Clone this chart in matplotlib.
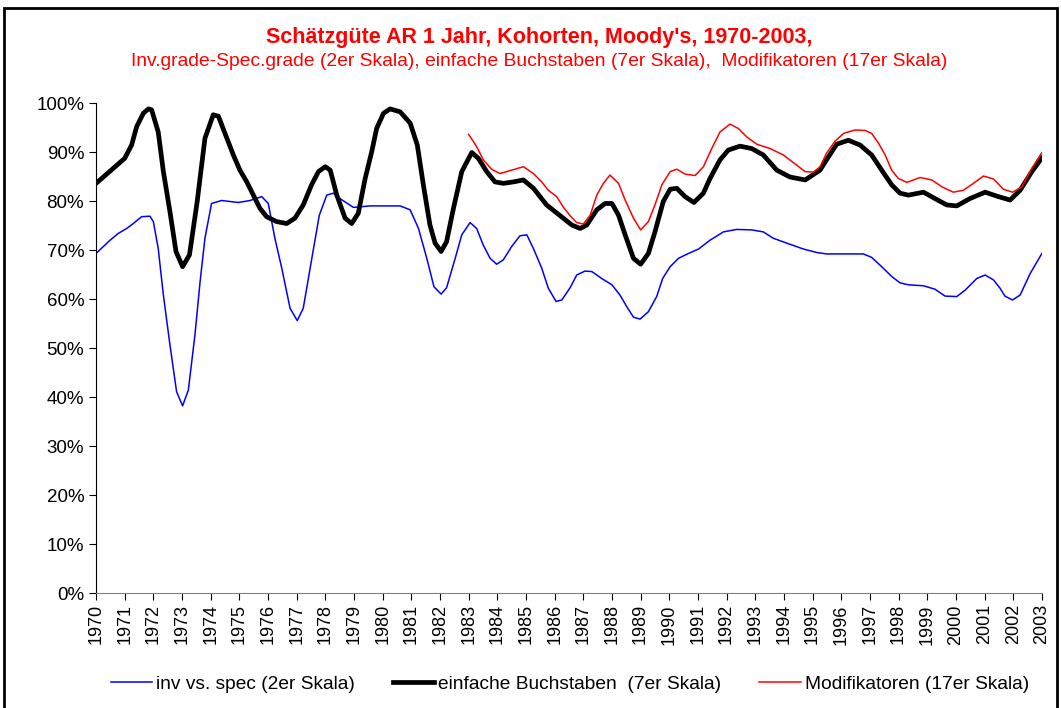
import matplotlib.pyplot as plt
from matplotlib.patches import Rectangle
from matplotlib.ticker import FuncFormatter

plt.rcParams["font.family"] = ["Liberation Sans", "DejaVu Sans"]

# inv vs. spec (2er Skala)
blue_x = [1970.0, 1970.49, 1970.78, 1971.07, 1971.3, 1971.59, 1971.88, 1972.0, 1972.17, 1972.35,
          1972.58, 1972.81, 1973.02, 1973.22, 1973.45, 1973.63, 1973.8, 1974.03, 1974.38, 1974.97,
          1975.37, 1975.78, 1976.01, 1976.24, 1976.48, 1976.77, 1977.02, 1977.23, 1977.47, 1977.79,
          1978.05, 1978.28, 1978.51, 1978.98, 1979.56, 1980.61, 1980.96, 1981.25, 1981.54, 1981.79,
          1982.04, 1982.23, 1982.53, 1982.76, 1983.05, 1983.28, 1983.51, 1983.75, 1983.98, 1984.21,
          1984.5, 1984.79, 1985.03, 1985.26, 1985.55, 1985.78, 1986.05, 1986.25, 1986.54, 1986.77,
          1987.06, 1987.3, 1987.64, 1988.0, 1988.28, 1988.52, 1988.75, 1988.98, 1989.27, 1989.56,
          1989.77, 1990.03, 1990.32, 1990.67, 1991.02, 1991.42, 1991.89, 1992.35, 1992.88, 1993.28,
          1993.63, 1994.1, 1994.68, 1995.14, 1995.49, 1996.77, 1997.06, 1997.41, 1997.76, 1998.05,
          1998.34, 1998.87, 1999.27, 1999.62, 2000.03, 2000.32, 2000.73, 2001.02, 2001.31, 2001.54,
          2001.71, 2001.97, 2002.24, 2002.59, 2003.0]
blue_y = [69.3, 72.0, 73.4, 74.4, 75.4, 76.8, 76.9, 75.8, 70.3, 60.8,
          50.6, 41.1, 38.2, 41.4, 52.6, 63.5, 72.4, 79.5, 80.1, 79.7,
          80.1, 80.9, 79.5, 72.4, 66.3, 58.1, 55.6, 58.1, 66.3, 77.1,
          81.2, 81.6, 80.5, 78.7, 79.0, 79.0, 78.2, 74.4, 68.3, 62.5,
          61.0, 62.3, 68.3, 73.1, 75.6, 74.4, 71.0, 68.3, 67.1, 68.0,
          70.7, 72.9, 73.1, 70.3, 66.3, 62.2, 59.5, 59.8, 62.3, 64.9,
          65.7, 65.6, 64.2, 62.9, 60.8, 58.4, 56.3, 55.9, 57.4, 60.5,
          64.2, 66.6, 68.3, 69.3, 70.2, 72.0, 73.7, 74.2, 74.1, 73.7,
          72.4, 71.4, 70.2, 69.5, 69.2, 69.2, 68.5, 66.6, 64.6, 63.3,
          62.9, 62.7, 62.0, 60.6, 60.5, 61.8, 64.2, 64.9, 63.9, 62.2,
          60.6, 59.8, 60.8, 65.2, 69.3]

# einfache Buchstaben (7er Skala)
black_x = [1970.0, 1970.49, 1971.0, 1971.24, 1971.42, 1971.65, 1971.83, 1971.94, 1972.17, 1972.35,
           1972.58, 1972.79, 1973.02, 1973.26, 1973.53, 1973.8, 1974.09, 1974.27, 1974.5, 1974.79,
           1975.02, 1975.26, 1975.49, 1975.72, 1975.95, 1976.3, 1976.65, 1976.94, 1977.23, 1977.52,
           1977.76, 1978.0, 1978.17, 1978.4, 1978.69, 1978.92, 1979.15, 1979.39, 1979.62, 1979.79,
           1980.03, 1980.26, 1980.61, 1980.96, 1981.21, 1981.42, 1981.65, 1981.83, 1982.04, 1982.23,
           1982.47, 1982.76, 1983.11, 1983.34, 1983.63, 1983.92, 1984.21, 1984.56, 1984.91, 1985.26,
           1985.72, 1986.3, 1986.6, 1986.89, 1987.12, 1987.47, 1987.76, 1988.0, 1988.23, 1988.46,
           1988.75, 1989.0, 1989.27, 1989.5, 1989.79, 1990.03, 1990.26, 1990.55, 1990.86, 1991.19,
           1991.42, 1991.77, 1992.06, 1992.47, 1992.88, 1993.28, 1993.75, 1994.21, 1994.74, 1995.03,
           1995.26, 1995.55, 1995.84, 1996.25, 1996.66, 1997.06, 1997.41, 1997.76, 1998.05, 1998.34,
           1998.87, 1999.27, 1999.68, 2000.03, 2000.49, 2001.02, 2001.48, 2001.89, 2002.24, 2002.65,
           2003.0]
black_y = [83.6, 86.1, 88.7, 91.4, 95.2, 97.9, 98.8, 98.6, 94.1, 86.0,
           77.8, 69.7, 66.6, 69.0, 79.9, 92.8, 97.6, 97.3, 93.8, 89.4,
           86.3, 83.9, 81.2, 78.5, 76.8, 75.8, 75.4, 76.5, 79.2, 83.3,
           86.0, 87.0, 86.3, 81.2, 76.5, 75.4, 77.5, 84.6, 90.1, 94.8,
           97.9, 98.8, 98.2, 95.9, 91.4, 83.3, 75.1, 71.4, 69.7, 71.7,
           78.5, 86.0, 89.9, 88.7, 86.0, 83.9, 83.6, 83.9, 84.3, 82.6,
           79.2, 76.5, 75.1, 74.4, 75.1, 78.2, 79.5, 79.5, 77.1, 73.1,
           68.3, 67.1, 69.3, 73.7, 79.9, 82.4, 82.6, 80.9, 79.7, 81.6,
           84.6, 88.4, 90.4, 91.2, 90.7, 89.4, 86.3, 84.9, 84.3, 85.4,
           86.3, 89.0, 91.6, 92.4, 91.4, 89.4, 86.3, 83.3, 81.6, 81.2,
           81.8, 80.5, 79.2, 79.0, 80.5, 81.8, 80.9, 80.2, 82.2, 86.0,
           88.8]

# Modifikatoren (17er Skala)
red_x = [1983.0, 1983.28, 1983.51, 1983.8, 1984.09, 1984.5, 1984.91, 1985.26, 1985.55, 1985.78,
         1986.07, 1986.3, 1986.54, 1986.77, 1987.0, 1987.24, 1987.47, 1987.7, 1987.93, 1988.23,
         1988.46, 1988.75, 1989.0, 1989.27, 1989.5, 1989.74, 1990.03, 1990.26, 1990.55, 1990.9,
         1991.19, 1991.48, 1991.77, 1992.12, 1992.41, 1992.7, 1993.05, 1993.52, 1993.98, 1994.45,
         1994.74, 1995.03, 1995.26, 1995.49, 1995.78, 1996.08, 1996.48, 1996.83, 1997.06, 1997.3,
         1997.53, 1997.76, 1997.99, 1998.29, 1998.75, 1999.16, 1999.51, 1999.91, 2000.26, 2000.61,
         2000.96, 2001.31, 2001.66, 2001.98, 2002.3, 2002.65, 2003.0]
red_y = [93.6, 91.1, 88.4, 86.5, 85.6, 86.3, 87.0, 85.6, 83.9, 82.2,
         80.9, 78.8, 77.0, 75.6, 75.3, 77.1, 81.2, 83.6, 85.3, 83.6,
         80.2, 76.5, 74.1, 75.8, 79.2, 83.3, 86.0, 86.5, 85.5, 85.2,
         87.0, 90.7, 94.1, 95.7, 94.8, 93.1, 91.6, 90.7, 89.4, 87.3,
         86.0, 85.9, 87.0, 89.8, 92.2, 93.8, 94.5, 94.4, 93.8, 91.8,
         89.4, 86.3, 84.6, 83.8, 84.8, 84.3, 82.9, 81.8, 82.2, 83.6,
         85.1, 84.5, 82.4, 81.8, 82.9, 86.7, 89.9]

years = list(range(1970, 2004))

fig = plt.figure(figsize=(10.61, 7.08), dpi=100)
ax = fig.add_axes([0.0905, 0.1624, 0.8915, 0.6921])

l1, = ax.plot(blue_x, blue_y, color="#0000FF", lw=1.1, label="inv vs. spec (2er Skala)")
l2, = ax.plot(black_x, black_y, color="black", lw=3.4, label="einfache Buchstaben  (7er Skala)")
l3, = ax.plot(red_x, red_y, color="#FF0000", lw=1.1, label="Modifikatoren (17er Skala)")

ax.set_xlim(1970, 2003)
ax.set_ylim(0, 100)
ax.set_xticks(years)
ax.set_xticklabels([str(y) for y in years], rotation=90, fontsize=13)
ax.set_yticks(range(0, 101, 10))
ax.yaxis.set_major_formatter(FuncFormatter(lambda v, p: f"{int(v)}%"))
ax.tick_params(axis="y", labelsize=13.5, length=5, direction="out")
ax.tick_params(axis="x", length=5, direction="out", pad=3)
for s in ["top", "right"]:
    ax.spines[s].set_visible(False)
ax.spines["bottom"].set_color("#808080")

fig.text(0.508, 1 - 38 / 708, "Schätzgüte AR 1 Jahr, Kohorten, Moody's, 1970-2003,",
         color="#FF0000", fontsize=15.5, fontweight="bold", ha="center", va="center")
fig.text(0.508, 1 - 62 / 708,
         "Inv.grade-Spec.grade (2er Skala), einfache Buchstaben (7er Skala),  Modifikatoren (17er Skala)",
         color="#FF0000", fontsize=13.9, ha="center", va="center")

fig.legend(handles=[l1, l2, l3], loc="center", bbox_to_anchor=(0.537, 1 - 684 / 708),
           ncol=3, frameon=False, fontsize=13.8, handlelength=2.15, handletextpad=0.2,
           columnspacing=2.0)

fig.patches.append(Rectangle((4 / 1061, -0.05), 1 - 8 / 1061, 1.05 - 8 / 708,
                             transform=fig.transFigure, fill=False, lw=2, edgecolor="black"))

fig.savefig("out.png", dpi=100)
